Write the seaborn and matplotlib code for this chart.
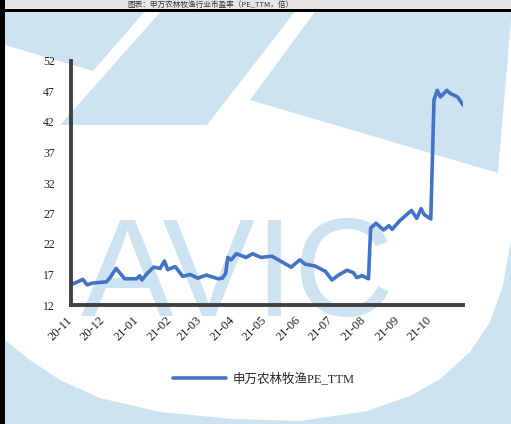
import matplotlib
matplotlib.use("Agg")
import matplotlib.pyplot as plt
import matplotlib.patches as mpatches
import seaborn as sns
import pandas as pd
import numpy as np

# ---------------- data ----------------
dates = ["2020-11-02", "2020-11-12", "2020-11-16", "2020-11-21", "2020-12-04", "2020-12-07",
         "2020-12-13", "2020-12-21", "2021-01-01", "2021-01-04", "2021-01-06", "2021-01-11",
         "2021-01-17", "2021-01-23", "2021-01-27", "2021-01-30", "2021-02-06", "2021-02-13",
         "2021-02-20", "2021-02-27", "2021-03-07", "2021-03-18", "2021-03-22", "2021-03-25",
         "2021-03-27", "2021-03-30", "2021-04-04", "2021-04-13", "2021-04-19", "2021-04-27",
         "2021-05-07", "2021-05-13", "2021-05-25", "2021-06-02", "2021-06-07", "2021-06-16",
         "2021-06-26", "2021-07-02", "2021-07-08", "2021-07-16", "2021-07-22", "2021-07-25",
         "2021-07-30", "2021-08-05", "2021-08-07", "2021-08-12", "2021-08-19", "2021-08-24",
         "2021-08-27", "2021-09-03", "2021-09-14", "2021-09-19", "2021-09-23", "2021-09-26",
         "2021-10-02", "2021-10-05", "2021-10-08", "2021-10-11", "2021-10-17", "2021-10-20",
         "2021-10-27", "2021-11-01"]
pe_ttm = [15.4, 16.2, 15.3, 15.6, 15.8, 16.4, 18.0, 16.3, 16.3, 16.8, 16.1, 17.2,
          18.2, 18.0, 19.2, 17.8, 18.3, 16.7, 17.0, 16.4, 16.9, 16.3, 16.4, 17.2,
          19.8, 19.4, 20.4, 19.8, 20.4, 19.8, 20.0, 19.4, 18.2, 19.4, 18.7, 18.4,
          17.5, 16.1, 16.9, 17.7, 17.3, 16.5, 16.8, 16.3, 24.6, 25.4, 24.3, 25.0,
          24.4, 25.8, 27.5, 26.2, 27.8, 26.8, 26.1, 45.6, 47.2, 46.1, 47.2, 46.7,
          46.1, 44.8]
series_name = "申万农林牧渔PE_TTM"
tick_dates = ["2020-11-01", "2020-12-01", "2021-01-01", "2021-02-01", "2021-03-01",
              "2021-04-01", "2021-05-01", "2021-06-01", "2021-07-01", "2021-08-01",
              "2021-09-01", "2021-10-01", "2021-11-01"]
tick_labels = ["20-11", "20-12", "21-01", "21-02", "21-03", "21-04", "21-05",
               "21-06", "21-07", "21-08", "21-09", "21-10", ""]
y_ticks = [12, 17, 22, 27, 32, 37, 42, 47, 52]

df = pd.DataFrame({"date": pd.to_datetime(dates), "pe": pe_ttm})

# ---------------- style ----------------
sns.set_style("white")
plt.rcParams["font.family"] = ["Liberation Serif", "Noto Sans CJK SC", "DejaVu Sans"]

W, H = 511, 424
fig = plt.figure(figsize=(W / 100, H / 100), dpi=100)
fig.patch.set_facecolor("white")


def px(x, y):
    return (x / W, 1 - y / H)


wm = "#cde3f2"
# watermark: top band pieces
for poly in [
    [(5, 9), (147, 9), (93, 71), (5, 45)],
    [(163, 9), (297, 9), (207, 125), (60, 125)],
    [(317, 9), (511, 9), (511, 20), (498, 173), (250, 100)],
]:
    fig.patches.append(mpatches.Polygon([px(*p) for p in poly], closed=True,
                                        transform=fig.transFigure, facecolor=wm,
                                        edgecolor="none", zorder=-10))
# watermark: bottom ring
ring = [(5, 340), (30, 360), (60, 380), (100, 398), (160, 412), (233, 419),
        (300, 421), (367, 411), (410, 396), (440, 379), (470, 352), (490, 322),
        (503, 285), (511, 240), (511, 424), (5, 424)]
fig.patches.append(mpatches.Polygon([px(*p) for p in ring], closed=True,
                                    transform=fig.transFigure, facecolor=wm,
                                    edgecolor="none", zorder=-10))
# watermark text
fig.text(238 / W, 1 - 316 / H, "AVIC", fontsize=100, color=wm,
         family="Liberation Sans", ha="center", va="baseline", zorder=-9)

# frame pieces
fig.patches.append(mpatches.Rectangle((5 / W, 1 - 9 / H), 1, 9 / H,
                                      transform=fig.transFigure, facecolor="#e6e6e6",
                                      edgecolor="none", zorder=-8))
fig.text(210 / W, 1 - 4.5 / H, "图表：申万农林牧渔行业市盈率（PE_TTM，倍）", fontsize=5.5,
         color="#333333", ha="center", va="center", zorder=-7,
         family=["Noto Sans CJK SC", "DejaVu Sans"])
fig.patches.append(mpatches.Rectangle((0, 1 - 12 / H), 1, 3 / H,
                                      transform=fig.transFigure, facecolor="black",
                                      edgecolor="none", zorder=-6))
fig.patches.append(mpatches.Rectangle((0, 0), 5 / W, 1,
                                      transform=fig.transFigure, facecolor="black",
                                      edgecolor="none", zorder=-6))

# ---------------- axes ----------------
ax = fig.add_axes([71 / W, 1 - 305 / H, (463 - 71) / W, (305 - 61) / H])
ax.set_facecolor("none")
ax.set_zorder(2)

sns.lineplot(data=df, x="date", y="pe", ax=ax, color="#4472C4", linewidth=2.6,
             label=series_name, legend=False)

ax.set_xlim(pd.Timestamp(tick_dates[0]), pd.Timestamp(tick_dates[-1]))
ax.set_ylim(y_ticks[0], y_ticks[-1])
ax.set_yticks(y_ticks)
ax.set_yticklabels([str(v) for v in y_ticks], fontsize=8.5)
ax.set_xticks(pd.to_datetime(tick_dates))
ax.set_xticklabels(tick_labels, fontsize=9, rotation=45, ha="right",
                   va="center", rotation_mode="anchor")
ax.set_xlabel("")
ax.set_ylabel("")

for s in ["top", "right"]:
    ax.spines[s].set_visible(False)
for s in ["left", "bottom"]:
    ax.spines[s].set_color("#404040")
    ax.spines[s].set_linewidth(2.8)
    ax.spines[s].set_capstyle("projecting")
ax.tick_params(axis="both", direction="out", length=2.5, width=2.5, color="#404040",
               labelcolor="#222222")
ax.tick_params(axis="y", pad=9)
ax.tick_params(axis="x", pad=7)
ax.grid(False)

handles, labels = ax.get_legend_handles_labels()
fig.legend(handles, labels, loc="center", bbox_to_anchor=(264 / W, 1 - 379 / H),
           frameon=False, handlelength=4.2, handletextpad=0.6,
           prop={"family": ["Liberation Serif", "Noto Sans CJK SC"], "size": 9})

fig.savefig("out.png", dpi=100)
